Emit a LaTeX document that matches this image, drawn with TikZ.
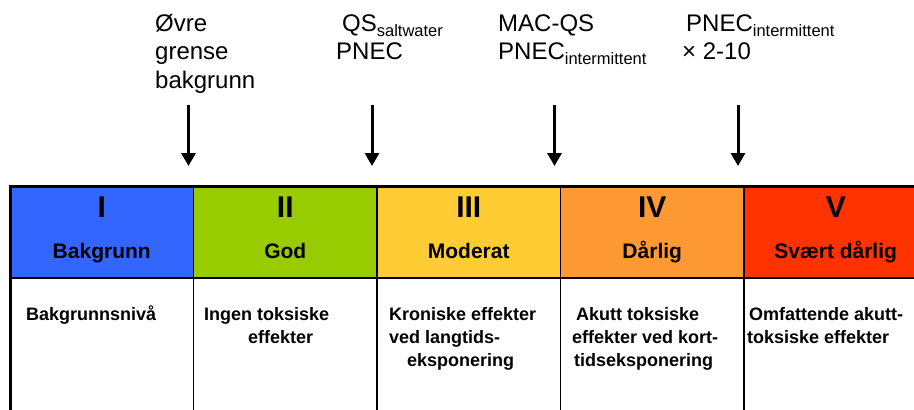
\documentclass[tikz,border=0pt]{standalone}
\usepackage{fontspec}
\setmainfont{Liberation Sans}
\usepackage{tikz}
\usetikzlibrary{arrows.meta,positioning,calc}
\definecolor{KlasseBlue}{HTML}{3366FF}
\definecolor{KlasseGreen}{HTML}{99CC00}
\definecolor{KlasseYellow}{HTML}{FFCC33}
\definecolor{KlasseOrange}{HTML}{FF9933}
\definecolor{KlasseRed}{HTML}{FF3300}
\newcommand{\nedre}[1]{\raisebox{-5pt}{\fontsize{16.5}{16.5}\selectfont #1}}
\tikzset{
  klasse/.style={draw=black, line width=1.5pt, minimum width=183.5pt,
    minimum height=92pt, inner sep=0pt, outer sep=0pt},
  omtale/.style={draw=black, line width=1.5pt, fill=white, minimum width=183.5pt,
    minimum height=160pt, inner sep=0pt, outer sep=0pt},
  tall/.style={anchor=base, inner sep=0pt, font=\fontsize{30}{30}\selectfont\bfseries},
  navn/.style={anchor=base, inner sep=0pt, font=\fontsize{21}{21}\selectfont\bfseries},
  % multi-line nodes: base = baseline of the last line
  tekst/.style={anchor=base west, align=left, inner sep=0pt,
    font=\fontsize{18}{23}\selectfont\bfseries},
  grense/.style={anchor=base west, align=left, inner sep=0pt,
    font=\fontsize{24}{28.5}\selectfont},
  pil/.style={-{Triangle[length=13pt,width=14pt]}, line width=3pt},
  ramme/.style={line width=3pt}
}

\begin{document}
\begin{tikzpicture}[x=1pt, y=1pt]
  \useasboundingbox (0,0) rectangle (914,-410);
  % header row
  \node[klasse, fill=KlasseBlue, anchor=north west] (k1) at (10,-186) {};
  \node[klasse, fill=KlasseGreen, right=0pt of k1] (k2) {};
  \node[klasse, fill=KlasseYellow, right=0pt of k2] (k3) {};
  \node[klasse, fill=KlasseOrange, right=0pt of k3] (k4) {};
  \node[klasse, fill=KlasseRed, right=0pt of k4] (k5) {};
  % body row
  \node[omtale, below=0pt of k1] (o1) {};
  \node[omtale, below=0pt of k2] (o2) {};
  \node[omtale, below=0pt of k3] (o3) {};
  \node[omtale, below=0pt of k4] (o4) {};
  \node[omtale, below=0pt of k5] (o5) {};
  \draw[ramme] (o1.south west) -- (k1.north west) -- (k5.north east);

  \node[tall] (r1) at ($(k1.north)+(0,-31)$) {I};
  \node[tall] (r2) at ($(k2.north)+(0,-31)$) {II};
  \node[tall] (r3) at ($(k3.north)+(0,-31)$) {III};
  \node[tall] (r4) at ($(k4.north)+(0,-31)$) {IV};
  \node[tall] (r5) at ($(k5.north)+(0,-31)$) {V};
  \node[navn] (n1) at ($(k1.north)+(0,-72)$) {Bakgrunn};
  \node[navn] (n2) at ($(k2.north)+(0,-72)$) {God};
  \node[navn] (n3) at ($(k3.north)+(0,-72)$) {Moderat};
  \node[navn] (n4) at ($(k4.north)+(0,-72)$) {Dårlig};
  \node[navn] (n5) at ($(k5.north)+(0,-72)$) {Svært dårlig};

  \node[tekst] (t1) at ($(o1.north west)+(16,-42)$) {Bakgrunnsnivå};
  \node[tekst] (t2) at ($(o2.north west)+(10.5,-65)$) {Ingen toksiske\\\hspace{44pt}effekter};
  \node[tekst] (t3) at ($(o3.north west)+(12,-88)$)
    {Kroniske effekter\\ved langtids-\\\hspace{18pt}eksponering};
  \node[tekst] (t4) at ($(o4.north west)+(11.5,-88)$)
    {\hspace{4pt}Akutt toksiske\\effekter ved kort-\\\hspace{2pt}tidseksponering};
  \node[tekst] (t5) at ($(o5.north west)+(3,-65)$)
    {\hspace{2pt}Omfattende akutt-\\toksiske effekter};

  % limits above the class boundaries
  \node[grense] (g1) at (155,-88) {Øvre\\grense\\bakgrunn};
  \node[grense] (g2) at (336,-59.5) {\hspace{6pt}QS\nedre{saltwater}\\PNEC};
  \node[grense] (g3) at (498,-59.5) {MAC-QS\\PNEC\nedre{intermittent}};
  \node[grense] (g4) at (682,-59.5) {\hspace{4pt}PNEC\nedre{intermittent}\\× 2-10};

  \coordinate (p1) at ($(k1.north east)+(-5,81)$);
  \coordinate (q1) at ($(k1.north east)+(-5,20)$);
  \coordinate (p2) at ($(k2.north east)+(-5,81)$);
  \coordinate (q2) at ($(k2.north east)+(-5,20)$);
  \coordinate (p3) at ($(k3.north east)+(-6,81)$);
  \coordinate (q3) at ($(k3.north east)+(-6,20)$);
  \coordinate (p4) at ($(k4.north east)+(-6,81)$);
  \coordinate (q4) at ($(k4.north east)+(-6,20)$);
  \draw[pil] (p1) -- (q1);
  \draw[pil] (p2) -- (q2);
  \draw[pil] (p3) -- (q3);
  \draw[pil] (p4) -- (q4);
\end{tikzpicture}
\end{document}
